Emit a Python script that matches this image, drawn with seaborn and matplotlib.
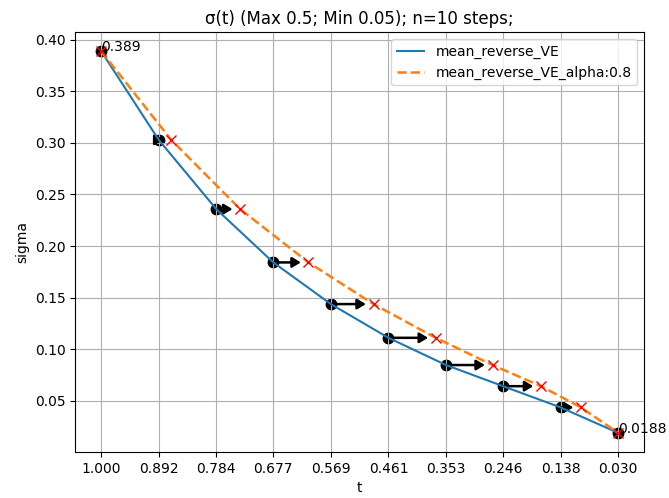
import matplotlib
matplotlib.use("Agg")
import matplotlib.pyplot as plt
import seaborn as sns
import pandas as pd

# data
t_steps = [1.000, 0.892, 0.784, 0.677, 0.569, 0.461, 0.353, 0.246, 0.138, 0.030]
tick_labels = ["1.000", "0.892", "0.784", "0.677", "0.569", "0.461", "0.353", "0.246", "0.138", "0.030"]
sigma_ve = [0.389, 0.303, 0.2358, 0.1841, 0.1437, 0.1110, 0.0846, 0.0641, 0.0435, 0.0188]
t_alpha = [1.000, 0.8686, 0.7392, 0.6110, 0.4890, 0.3723, 0.2657, 0.1749, 0.0998, 0.030]
sigma_alpha = [0.389, 0.303, 0.2358, 0.1841, 0.1437, 0.1110, 0.0846, 0.0641, 0.0435, 0.0188]

df = pd.DataFrame({
    "t": t_steps + t_alpha,
    "sigma": sigma_ve + sigma_alpha,
    "series": ["mean_reverse_VE"] * len(t_steps) + ["mean_reverse_VE_alpha:0.8"] * len(t_alpha),
})

fig = plt.figure(figsize=(6.69, 4.98), dpi=100)
ax = fig.add_axes([0.1125, 0.0924, 0.8502, 0.8433])

sns.lineplot(data=df, x="t", y="sigma", hue="series",
             palette=["#1f77b4", "#ff7f0e"], sort=False, ax=ax,
             linewidth=1.5, legend=False)
lines = ax.get_lines()
lines[0].set_linestyle("-")
lines[1].set_linestyle("--")
lines[1].set_linewidth(1.8)
lines[0].set_label("mean_reverse_VE")
lines[1].set_label("mean_reverse_VE_alpha:0.8")

ax.plot(t_steps, sigma_ve, "o", color="black", markersize=7.5, zorder=1.5)
ax.plot(t_alpha, sigma_alpha, "x", color="red", markersize=7, zorder=4)

for i in range(1, len(t_steps) - 1):
    ax.annotate("", xy=(t_alpha[i], sigma_alpha[i]), xytext=(t_steps[i], sigma_ve[i]),
                arrowprops=dict(arrowstyle="-|>,head_length=0.5,head_width=0.3",
                                color="black", lw=1.8, shrinkA=0, shrinkB=5.5),
                zorder=1.6)

ax.text(t_steps[0], sigma_ve[0], "0.389", fontsize=10)
ax.text(t_steps[-1], sigma_ve[-1], "0.0188", fontsize=10, clip_on=False)

ax.invert_xaxis()
ax.set_xticks(t_steps)
ax.set_xticklabels(tick_labels)
ax.grid(True)
ax.set_xlabel("t")
ax.set_ylabel("sigma")
ax.set_title("σ(t) (Max 0.5; Min 0.05); n=10 steps;")
ax.legend(handles=lines[:2], loc="upper right")

fig.savefig("out.png", dpi=100)
